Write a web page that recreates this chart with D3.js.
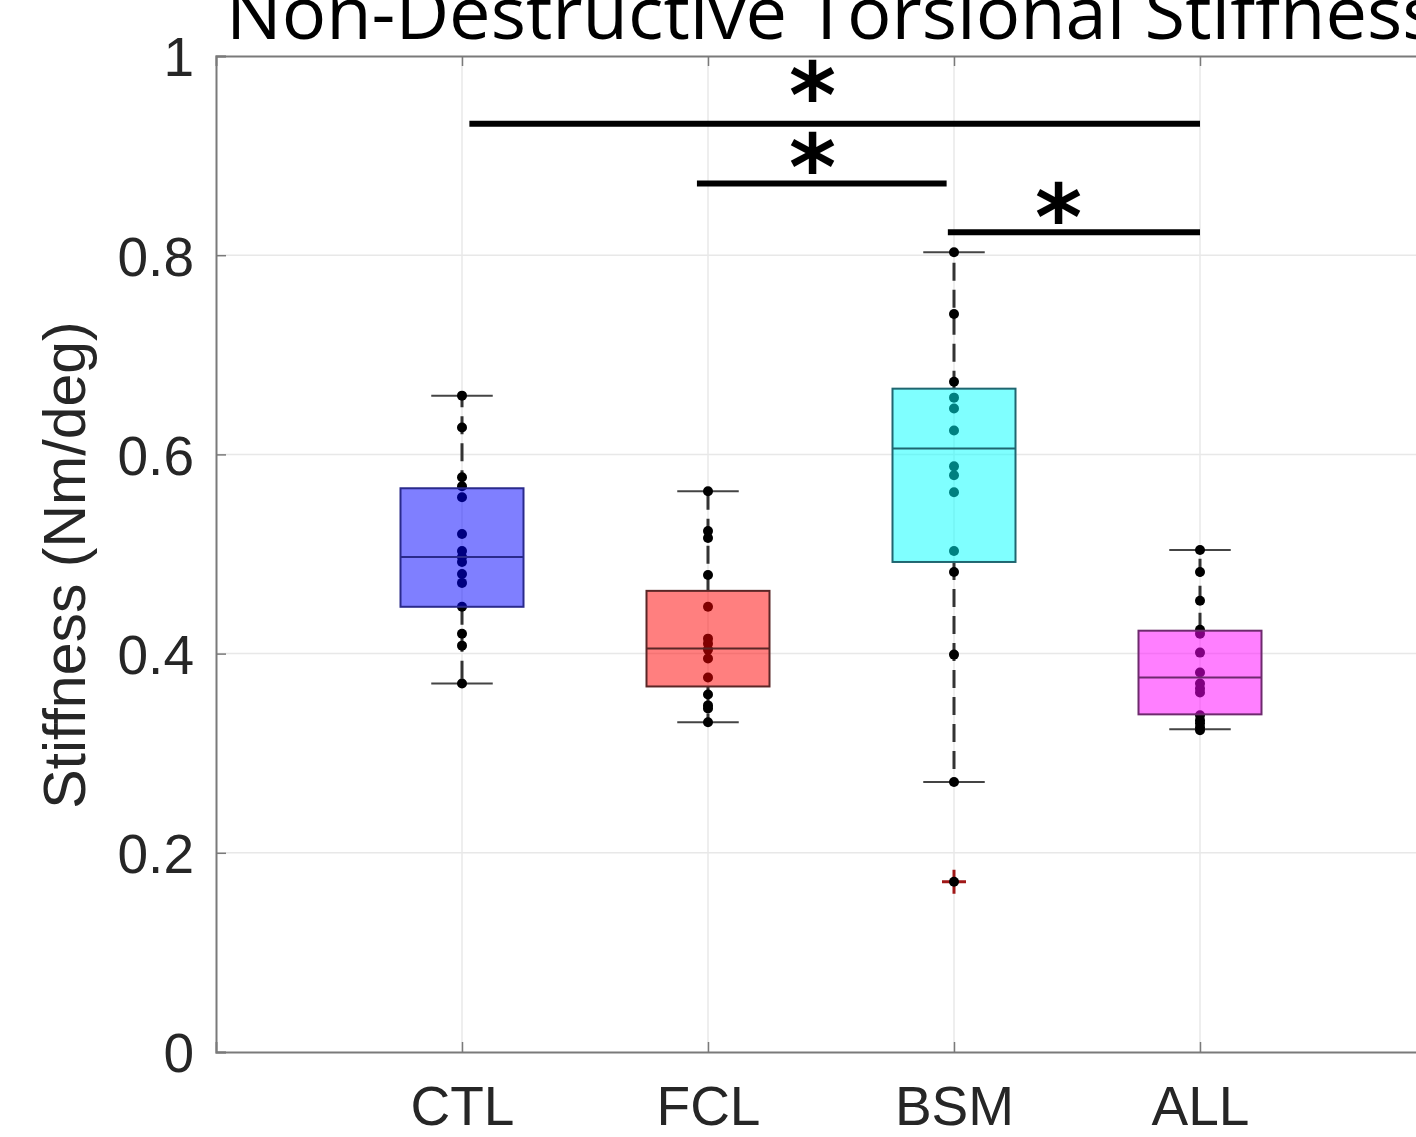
<!DOCTYPE html>
<html>
<head>
<meta charset="utf-8">
<script src="https://cdn.jsdelivr.net/npm/d3@7"></script>
<style>
  body { margin: 0; background: #fff; overflow: hidden; }
  svg { display: block; }
</style>
</head>
<body>
<svg id="chart"></svg>
<script>
var width = 1416,
    height = 1137;

// groups and values
var groups = ["CTL", "FCL", "BSM", "ALL"];
var fills  = ["#0000ff", "#ff0000", "#00ffff", "#ff00ff"];
var edges  = ["#2a2a8c", "#5a2626", "#1f6670", "#6e2a6e"];

var ctlPoints = [0.659, 0.627, 0.577, 0.568, 0.557, 0.520, 0.503, 0.497, 0.492, 0.480, 0.471, 0.447, 0.420, 0.408, 0.370];
var fclPoints = [0.563, 0.523, 0.516, 0.479, 0.447, 0.415, 0.410, 0.404, 0.395, 0.376, 0.359, 0.348, 0.345, 0.331];
var bsmPoints = [0.803, 0.741, 0.673, 0.657, 0.646, 0.624, 0.588, 0.579, 0.562, 0.503, 0.482, 0.399, 0.271, 0.171];
var allPoints = [0.504, 0.482, 0.453, 0.424, 0.420, 0.401, 0.381, 0.370, 0.365, 0.361, 0.338, 0.333, 0.330, 0.326, 0.323];
var points = [ctlPoints, fclPoints, bsmPoints, allPoints];

var q1       = [0.447, 0.367, 0.492, 0.339];
var medians  = [0.497, 0.405, 0.606, 0.376];
var q3       = [0.566, 0.463, 0.666, 0.423];
var whiskLo  = [0.370, 0.331, 0.271, 0.324];
var whiskHi  = [0.659, 0.563, 0.803, 0.504];
var outliers = [[], [], [0.171], []];

var yTicks = [0, 0.2, 0.4, 0.6, 0.8, 1];

// significance bars: [from, to] in group positions, height in stiffness units
var sigFrom  = [1.03, 1.955, 2.975];
var sigTo    = [4.0, 2.97, 4.0];
var sigY     = [0.932, 0.872, 0.823];
var starX    = [2.425, 2.425, 3.425];
var starY    = [0.971, 0.899, 0.848];

var margin = {left: 216, top: 56, bottom: 85};

var svg = d3.select('#chart')
    .attr('width', width)
    .attr('height', height);

var x = d3.scaleLinear()
    .domain([0, 5])
    .range([margin.left, margin.left + 5 * 246]);

var y = d3.scaleLinear()
    .domain([0, 1])
    .range([height - margin.bottom, margin.top]);

var plotRight = x(5);

// title (runs off the top of the picture)
svg.append('text')
    .attr('x', 226)
    .attr('y', 39)
    .attr('font-family', '"Open Sans", sans-serif')
    .attr('font-size', 74)
    .attr('fill', '#000')
    .text('Non-Destructive Torsional Stiffness');

// grid
var grid = svg.append('g');
grid.selectAll('.hgrid')
    .data(yTicks.slice(1, -1))
    .enter()
    .append('line')
    .attr('x1', margin.left).attr('x2', plotRight)
    .attr('y1', d => y(d)).attr('y2', d => y(d))
    .attr('stroke', '#e8e8e8')
    .attr('stroke-width', 1.5);
grid.selectAll('.vgrid')
    .data(groups)
    .enter()
    .append('line')
    .attr('x1', (d, i) => x(i + 1)).attr('x2', (d, i) => x(i + 1))
    .attr('y1', y(0)).attr('y2', y(1))
    .attr('stroke', '#e8e8e8')
    .attr('stroke-width', 1.5);

// axes
var yAxis = d3.axisLeft(y)
    .tickValues(yTicks)
    .tickFormat(d3.format('~g'))
    .tickSize(-10)
    .tickPadding(22);
var gy = svg.append('g')
    .attr('transform', `translate(${margin.left},0)`)
    .call(yAxis);

var xAxis = d3.axisBottom(x)
    .tickValues([1, 2, 3, 4])
    .tickFormat((d, i) => groups[i])
    .tickSize(-10)
    .tickPadding(34);
var gx = svg.append('g')
    .attr('transform', `translate(0,${y(0)})`)
    .call(xAxis);

var topAxis = d3.axisTop(x)
    .tickValues([1, 2, 3, 4])
    .tickFormat('')
    .tickSize(-10);
svg.append('g')
    .attr('transform', `translate(0,${y(1)})`)
    .call(topAxis);

svg.selectAll('.domain')
    .attr('stroke', '#7a7a7a')
    .attr('stroke-width', 2);
svg.selectAll('.tick line')
    .attr('stroke', '#7a7a7a')
    .attr('stroke-width', 1.5);
svg.selectAll('.tick text')
    .attr('font-family', '"Liberation Sans", Arial, sans-serif')
    .attr('font-size', 55)
    .attr('fill', '#262626');
gy.selectAll('.tick text').attr('dy', '0.36em');

// y label
svg.append('text')
    .attr('transform', `translate(85,${(y(0) + y(1)) / 2 + 11}) rotate(-90)`)
    .attr('text-anchor', 'middle')
    .attr('font-family', '"Liberation Sans", Arial, sans-serif')
    .attr('font-size', 59)
    .attr('fill', '#262626')
    .text('Stiffness (Nm/deg)');

// boxes
var boxW = 0.5, capW = 0.25;
var plot = svg.append('g');

groups.forEach(function(g, i) {
    var cx = x(i + 1);
    var box = plot.append('g');

    // whiskers
    box.selectAll('.whisker')
        .data([[q3[i], whiskHi[i]], [q1[i], whiskLo[i]]])
        .enter()
        .append('line')
        .attr('x1', cx).attr('x2', cx)
        .attr('y1', d => y(d[0])).attr('y2', d => y(d[1]))
        .attr('stroke', '#333')
        .attr('stroke-width', 3)
        .attr('stroke-dasharray', '18,9');

    // caps
    box.selectAll('.cap')
        .data([whiskHi[i], whiskLo[i]])
        .enter()
        .append('line')
        .attr('x1', x(i + 1 - capW / 2)).attr('x2', x(i + 1 + capW / 2))
        .attr('y1', d => y(d)).attr('y2', d => y(d))
        .attr('stroke', '#444')
        .attr('stroke-width', 2);

    // outliers
    box.selectAll('.outlier')
        .data(outliers[i])
        .enter()
        .append('path')
        .attr('d', d => `M${cx - 12},${y(d)}H${cx + 12}M${cx},${y(d) - 12}V${y(d) + 12}`)
        .attr('stroke', '#a01818')
        .attr('stroke-width', 3);

    // data points
    box.selectAll('.pt')
        .data(points[i])
        .enter()
        .append('circle')
        .attr('cx', cx)
        .attr('cy', d => y(d))
        .attr('r', 5)
        .attr('fill', '#000');

    // box patch over points
    box.append('rect')
        .attr('x', x(i + 1 - boxW / 2))
        .attr('width', x(i + 1 + boxW / 2) - x(i + 1 - boxW / 2))
        .attr('y', y(q3[i]))
        .attr('height', y(q1[i]) - y(q3[i]))
        .attr('fill', fills[i])
        .attr('fill-opacity', 0.5)
        .attr('stroke', edges[i])
        .attr('stroke-width', 2);

    box.append('line')
        .attr('x1', x(i + 1 - boxW / 2)).attr('x2', x(i + 1 + boxW / 2))
        .attr('y1', y(medians[i])).attr('y2', y(medians[i]))
        .attr('stroke', edges[i])
        .attr('stroke-width', 2);
});

// significance bars
var sig = svg.append('g');
sig.selectAll('.bar')
    .data(sigY)
    .enter()
    .append('line')
    .attr('x1', (d, i) => x(sigFrom[i]))
    .attr('x2', (d, i) => x(sigTo[i]))
    .attr('y1', d => y(d)).attr('y2', d => y(d))
    .attr('stroke', '#000')
    .attr('stroke-width', 6);

sig.selectAll('.star')
    .data(starY)
    .enter()
    .append('text')
    .attr('x', (d, i) => x(starX[i]))
    .attr('y', d => y(d) + 42)
    .attr('text-anchor', 'middle')
    .attr('font-family', '"DejaVu Sans", sans-serif')
    .attr('font-weight', 'bold')
    .attr('font-size', 90)
    .attr('fill', '#000')
    .text('*');
</script>
</body>
</html>
